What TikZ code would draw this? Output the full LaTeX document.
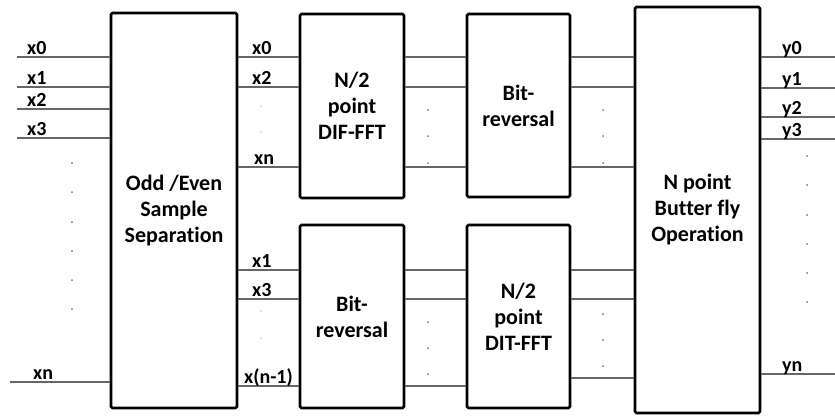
\documentclass[tikz,border=0pt]{standalone}
\usepackage{fontspec}
\setmainfont{Carlito}[Ligatures=NoCommon]
\begin{document}
\begin{tikzpicture}[x=1pt,y=-1pt,
  blk/.style={draw=black,line width=2.6pt,rounded corners=1.5pt,fill=white,align=center,
     inner sep=0pt,font=\bfseries\fontsize{22}{26}\selectfont},
  wire/.style={draw=black!60,line width=1.3pt},
  lbl/.style={anchor=base west,inner sep=0pt,yshift=3pt,font=\bfseries\fontsize{20}{22}\selectfont},
  dotm/.style={fill=black!55,draw=none,circle,inner sep=0pt,minimum size=2pt},
  fdot/.style={fill=black!20,draw=none,circle,inner sep=0pt,minimum size=2pt}]
\useasboundingbox (0,0) rectangle (835,416);
% boxes
\node[blk,minimum width=126pt,minimum height=395pt] (b1) at (174,210.5) {Odd /Even\\Sample\\Separation};
\node[blk,minimum width=104pt,minimum height=184pt] (b2) at (352,106) {N/2\\point\\DIF-FFT};
\node[blk,minimum width=103pt,minimum height=183pt] (b3) at (518.5,105.5) {Bit-\\reversal};
\node[blk,minimum width=104pt,minimum height=183pt] (b4) at (352,316.5) {Bit-\\reversal};
\node[blk,minimum width=103pt,minimum height=183pt] (b5) at (518.5,316.5) {N/2\\point\\DIT-FFT};
\node[blk,minimum width=125pt,minimum height=406pt] (b6) at (697.5,210) {N point\\Butter fly\\Operation};
% input free ends
\coordinate (i0) at (17,57);
\coordinate (i1) at (17,87);
\coordinate (i2) at (17,109);
\coordinate (i3) at (17,138);
\coordinate (in) at (10,382);
\foreach \c in {i0,i1,i2,i3,in} \draw[wire] (\c) -- (b1.west |- \c);
\node[lbl] (lx0) at (27,57) {x0};
\node[lbl] (lx1) at (27,87) {x1};
\node[lbl] (lx2) at (27,109) {x2};
\node[lbl] (lx3) at (27,138) {x3};
\node[lbl] (lxn) at (33,382) {xn};
\foreach \y [count=\i] in {163,192,222,251,280,309} \node[dotm] (ld\i) at (72,\y) {};
% box1 -> box2 / box4
\foreach \y in {57,87,167} \draw[wire] (b1.east |- 0,\y) -- (b2.west |- 0,\y);
\foreach \y in {270,299,386} \draw[wire] (b1.east |- 0,\y) -- (b4.west |- 0,\y);
\node[lbl] (mx0) at (252,57) {x0};
\node[lbl] (mx2) at (252,87) {x2};
\node[lbl] (mxn) at (254,167) {xn};
\node[lbl] (mx1) at (252,270) {x1};
\node[lbl] (mx3) at (252,299) {x3};
\node[lbl] (mxm) at (244,386) {x(n-1)};
\node[fdot] (fd1) at (261,106) {};
\node[fdot] (fd2) at (261,132) {};
\node[fdot] (fd3) at (261,311) {};
\node[fdot] (fd4) at (261,338) {};
% box2 -> box3, box4 -> box5
\foreach \y in {57,87,167} \draw[wire] (b2.east |- 0,\y) -- (b3.west |- 0,\y);
\foreach \y in {270,299,386} \draw[wire] (b4.east |- 0,\y) -- (b5.west |- 0,\y);
\foreach \y [count=\i] in {110,136,163} \node[dotm] (ma\i) at (428,\y) {};
\foreach \y [count=\i] in {322,348,374} \node[dotm] (mb\i) at (428,\y) {};
% box3 -> box6, box5 -> box6
\foreach \y in {57,87,167} \draw[wire] (b3.east |- 0,\y) -- (b6.west |- 0,\y);
\foreach \y in {270,299,378} \draw[wire] (b5.east |- 0,\y) -- (b6.west |- 0,\y);
\foreach \y [count=\i] in {110,136,163} \node[dotm] (na\i) at (603,\y) {};
\foreach \y [count=\i] in {314,340,366} \node[dotm] (nb\i) at (603,\y) {};
% outputs
\coordinate (o0) at (835,57);
\coordinate (o1) at (835,88);
\coordinate (o2) at (835,117);
\coordinate (o3) at (835,139);
\coordinate (on) at (835,374);
\foreach \c in {o0,o1,o2,o3,on} \draw[wire] (b6.east |- \c) -- (\c);
\node[lbl] (ly0) at (782,57) {y0};
\node[lbl] (ly1) at (782,88) {y1};
\node[lbl] (ly2) at (782,117) {y2};
\node[lbl] (ly3) at (782,139) {y3};
\node[lbl] (lyn) at (782,374) {yn};
\foreach \y [count=\i] in {156,185,215,244,273,302} \node[dotm] (rd\i) at (807,\y) {};
\end{tikzpicture}
\end{document}
